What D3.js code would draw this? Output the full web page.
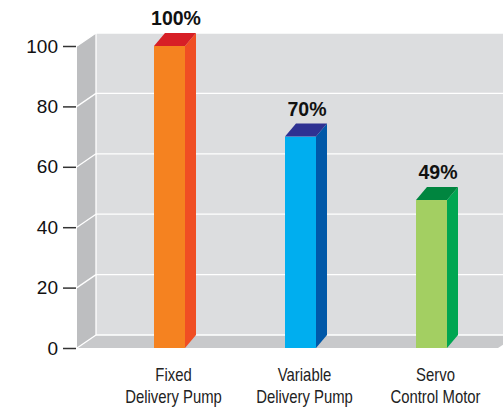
<!DOCTYPE html>
<html>
<head>
<meta charset="utf-8">
<script src="https://cdn.jsdelivr.net/npm/d3@7"></script>
<style>
  body { margin: 0; background: #fff; }
  svg { display: block; }
</style>
</head>
<body>
<svg id="chart" width="503" height="412"></svg>
<script>
// =========
// Data
// =========

var categories = ['Fixed\nDelivery Pump', 'Variable\nDelivery Pump', 'Servo\nControl Motor'];
var values = [100, 70, 49];
var value_labels = ['100%', '70%', '49%'];
var y_ticks = [0, 20, 40, 60, 80, 100];
var front_colors = ['#f58220', '#00aeef', '#a3cf62'];
var side_colors = ['#f04e23', '#0058a8', '#00a651'];
var top_colors = ['#d71f26', '#2e3192', '#00853f'];

// =========
// Layout
// =========

var svg = d3.select('#chart');
var left = 77, bottom = 348, top_px = 46;
var wall_dx = 19, wall_dy = -13;   // depth of the box
var bar_dx = 11, bar_dy = -13;     // depth of each bar
var bar_width = 31;

var y = d3.scaleLinear().domain([0, 100]).range([bottom, top_px]);
var x = d3.scalePoint().domain(categories).range([104, 497]).padding(0.5);

function pts(list){
    return list.map(function(p){ return p[0] + ',' + p[1]; }).join(' ');
}

// back wall
svg.append('rect')
    .attr('x', left + wall_dx)
    .attr('y', y(100) + wall_dy)
    .attr('width', 503 - left - wall_dx)
    .attr('height', y(0) - y(100))
    .attr('fill', '#dcdddf');

// left wall
svg.append('polygon')
    .attr('points', pts([[left, y(100)], [left + wall_dx, y(100) + wall_dy],
                         [left + wall_dx, y(0) + wall_dy], [left, y(0)]]))
    .attr('fill', '#bdbec0');

// floor
svg.append('polygon')
    .attr('points', pts([[left, y(0)], [left + wall_dx, y(0) + wall_dy],
                         [518, y(0) + wall_dy], [498, y(0)]]))
    .attr('fill', '#c8c9cb');

// gridlines on back wall and left wall
var grid = svg.append('g').attr('stroke', '#fff').attr('stroke-width', 1.3).attr('fill', 'none');
y_ticks.forEach(function(t){
    grid.append('line')
        .attr('x1', left + wall_dx).attr('x2', 503)
        .attr('y1', y(t) + wall_dy).attr('y2', y(t) + wall_dy);
    grid.append('line')
        .attr('x1', left).attr('x2', left + wall_dx)
        .attr('y1', y(t)).attr('y2', y(t) + wall_dy);
});
grid.append('line')
    .attr('x1', left + wall_dx).attr('x2', left + wall_dx)
    .attr('y1', y(100) + wall_dy).attr('y2', y(0) + wall_dy);

// y axis
var y_axis = svg.append('g')
    .attr('transform', 'translate(' + (left - 1) + ',0)')
    .call(d3.axisLeft(y).tickValues(y_ticks).tickSize(13).tickPadding(5));
y_axis.select('.domain').remove();
y_axis.selectAll('.tick line').attr('stroke', '#333').attr('stroke-width', 1.5);
y_axis.selectAll('.tick text')
    .attr('font-family', 'Liberation Sans, Arial, sans-serif')
    .attr('font-size', 19)
    .attr('fill', '#111');

// =========
// Bars
// =========

var bars = svg.append('g').selectAll('g.bar')
    .data(categories)
    .enter()
    .append('g')
    .attr('class', 'bar');

bars.each(function(c, i){
    var g = d3.select(this);
    var x0 = x(c) - bar_width / 2, x1 = x(c) + bar_width / 2;
    var yt = y(values[i]), yb = y(0);
    g.append('rect')
        .attr('x', x0).attr('y', yt)
        .attr('width', bar_width).attr('height', yb - yt)
        .attr('fill', front_colors[i]);
    g.append('polygon')
        .attr('points', pts([[x1, yt], [x1 + bar_dx, yt + bar_dy], [x1 + bar_dx, yb + bar_dy], [x1, yb]]))
        .attr('fill', side_colors[i]);
    g.append('polygon')
        .attr('points', pts([[x0, yt], [x0 + bar_dx, yt + bar_dy], [x1 + bar_dx, yt + bar_dy], [x1, yt]]))
        .attr('fill', top_colors[i]);
    g.append('text')
        .attr('x', x(c) + bar_dx / 2 + 1)
        .attr('y', yt - 21)
        .attr('text-anchor', 'middle')
        .attr('font-family', 'Liberation Sans, Arial, sans-serif')
        .attr('font-weight', 'bold')
        .attr('font-size', 19.5)
        .attr('fill', '#111')
        .text(value_labels[i]);
});

// category labels (condensed look: squeeze horizontally)
var cat_labels = svg.append('g').selectAll('text')
    .data(categories)
    .enter()
    .append('text')
    .attr('transform', function(c){ return 'translate(' + (x(c) + 4) + ',0) scale(0.85,1)'; })
    .attr('text-anchor', 'middle')
    .attr('font-family', 'Liberation Sans, Arial, sans-serif')
    .attr('font-size', 17.5)
    .attr('fill', '#222');

cat_labels.each(function(c){
    var t = d3.select(this);
    c.split('\n').forEach(function(line, k){
        t.append('tspan')
            .attr('x', 0)
            .attr('y', 381 + k * 22)
            .text(line);
    });
});
</script>
</body>
</html>
